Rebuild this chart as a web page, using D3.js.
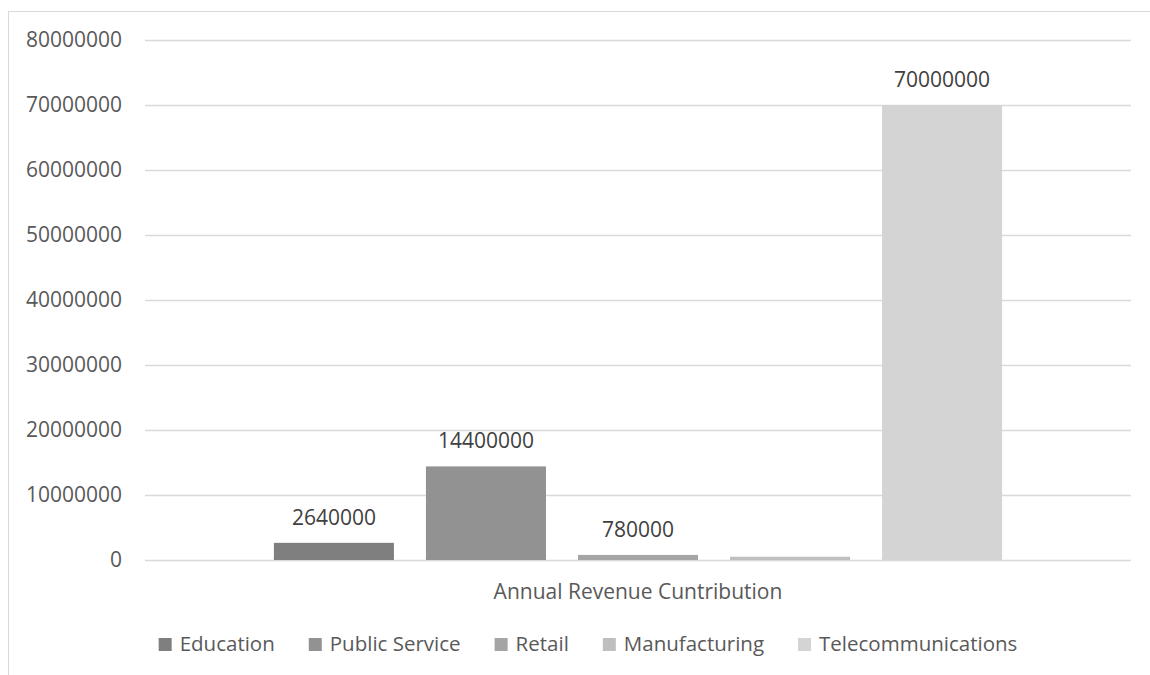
<!DOCTYPE html>
<html>
<head>
<meta charset="utf-8">
<script src="https://cdn.jsdelivr.net/npm/d3@7"></script>
<style>
  html, body { margin: 0; padding: 0; background: #ffffff; }
  #chart { width: 1150px; height: 675px; }
  text { font-family: "Open Sans", "Noto Sans", sans-serif; fill: #595959; }
</style>
</head>
<body>
<div id="chart"></div>
<script>
// data
const categories = ['Annual Revenue Cuntribution'];
const seriesNames = ['Education', 'Public Service', 'Retail', 'Manufacturing', 'Telecommunications'];
const seriesValues = [2640000, 14400000, 780000, 500000, 70000000];
const showLabel = [true, true, true, false, true];
const seriesColors = ['#7f7f7f', '#929292', '#a5a5a5', '#bfbfbf', '#d4d4d4'];
const yTicks = [0, 10000000, 20000000, 30000000, 40000000, 50000000, 60000000, 70000000, 80000000];

const width = 1150, height = 675;
const plot = { left: 145, right: 1131, top: 40, bottom: 560 };

const svg = d3.select('#chart').append('svg')
  .attr('width', width)
  .attr('height', height);

// chart frame
svg.append('rect')
  .attr('x', 8.5).attr('y', 11.5)
  .attr('width', 1160).attr('height', 680)
  .attr('fill', 'none')
  .attr('stroke', '#d9d9d9');

const y = d3.scaleLinear().domain([0, 80000000]).range([plot.bottom, plot.top]);

const x0 = d3.scaleBand()
  .domain(categories)
  .range([plot.left, plot.right])
  .paddingInner(0)
  .paddingOuter(0.177);

const x1 = d3.scaleBand()
  .domain(seriesNames)
  .range([0, x0.bandwidth()])
  .paddingInner(0.2105)
  .paddingOuter(0);

// gridlines
svg.append('g')
  .selectAll('line')
  .data(yTicks)
  .join('line')
    .attr('x1', plot.left).attr('x2', plot.right)
    .attr('y1', d => Math.round(y(d)) + 0.5)
    .attr('y2', d => Math.round(y(d)) + 0.5)
    .attr('stroke', '#d9d9d9')
    .attr('stroke-width', 1.3);

// y axis labels
svg.append('g')
  .selectAll('text')
  .data(yTicks)
  .join('text')
    .attr('x', 122)
    .attr('y', d => y(d))
    .attr('dy', '0.35em')
    .attr('text-anchor', 'end')
    .style('font-size', '21px')
    .text(d => d3.format('d')(d));

// bars
const rows = seriesNames.map((name, i) => ({
  cat: categories[0], name, value: seriesValues[i], color: seriesColors[i], label: showLabel[i]
}));

const group = svg.append('g');
group.selectAll('rect')
  .data(rows)
  .join('rect')
    .attr('x', d => x0(d.cat) + x1(d.name))
    .attr('y', d => y(d.value))
    .attr('width', x1.bandwidth())
    .attr('height', d => y(0) - y(d.value))
    .attr('fill', d => d.color);

// data labels
group.selectAll('text')
  .data(rows.filter(d => d.label))
  .join('text')
    .attr('x', d => x0(d.cat) + x1(d.name) + x1.bandwidth() / 2)
    .attr('y', d => y(d.value) - 18)
    .attr('text-anchor', 'middle')
    .style('font-size', '21px')
    .style('fill', '#404040')
    .text(d => d.value);

// category axis title
svg.append('text')
  .attr('x', x0(categories[0]) + x0.bandwidth() / 2)
  .attr('y', 599)
  .attr('text-anchor', 'middle')
  .style('font-size', '21px')
  .text(categories[0]);

// legend
const legend = svg.append('g');
const items = legend.selectAll('g')
  .data(rows)
  .join('g');
items.append('rect')
  .attr('width', 13).attr('height', 13)
  .attr('y', 638)
  .attr('fill', d => d.color);
items.append('text')
  .attr('x', 21)
  .attr('y', 651)
  .style('font-size', '20.5px')
  .text(d => d.name);

let cursor = 0;
const offsets = [];
items.each(function () {
  offsets.push(cursor);
  const w = d3.select(this).select('text').node().getComputedTextLength();
  cursor += 21 + w + 34;
});
const total = cursor - 34;
const start = 588 - total / 2;
items.attr('transform', (d, i) => `translate(${start + offsets[i]},0)`);
</script>
</body>
</html>
